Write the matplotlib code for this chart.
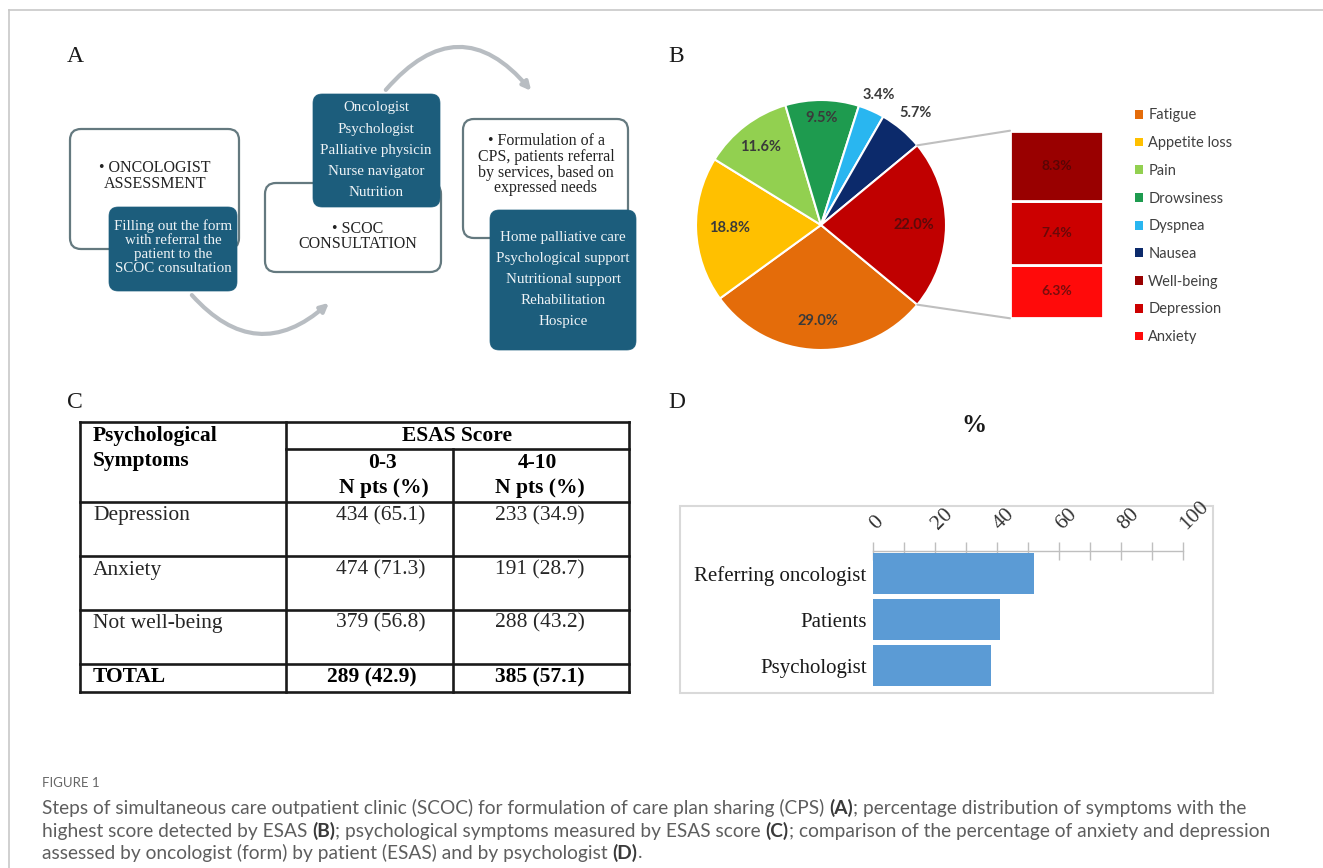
import numpy as np
import matplotlib
matplotlib.use('Agg')
import matplotlib.pyplot as plt
from matplotlib.patches import FancyBboxPatch, FancyArrowPatch, Rectangle, Patch, ConnectionPatch

W, H = 1323, 868
SERIF = 'Liberation Serif'
SANS = 'Lato'

# ---- data ----
symptoms = ['Fatigue', 'Appetite loss', 'Pain', 'Drowsiness', 'Dyspnea', 'Nausea']
symptom_pct = [29.0, 18.8, 11.6, 9.5, 3.4, 5.7]
symptom_colors = ['#E46C0A', '#FFC000', '#92D050', '#1E9B4F', '#29B6F0', '#0C2A6B']
psych_symptoms = ['Well-being', 'Depression', 'Anxiety']
psych_pct = [8.3, 7.4, 6.3]
psych_colors = ['#990000', '#CC0000', '#FF0A0A']

table_rows = ['Depression', 'Anxiety', 'Not well-being']
low_n = [434, 474, 379]
low_pct = [65.1, 71.3, 56.8]
high_n = [233, 191, 288]
high_pct = [34.9, 28.7, 43.2]
total_low = (289, 42.9)
total_high = (385, 57.1)

raters = ['Referring oncologist', 'Patients', 'Psychologist']
rater_pct = [52, 41, 38]

step1_title = ['\u2022 ONCOLOGIST', 'ASSESSMENT']
step1_detail = ['Filling out the form', 'with referral the', 'patient to the', 'SCOC consultation']
step2_title = ['\u2022 SCOC', 'CONSULTATION']
step2_detail = ['Oncologist', 'Psychologist', 'Palliative physicin', 'Nurse navigator', 'Nutrition']
step3_title = ['\u2022 Formulation of a', 'CPS, patients referral', 'by services, based on', 'expressed needs']
step3_detail = ['Home palliative care', 'Psychological support', 'Nutritional support',
                'Rehabilitation', 'Hospice']

caption_lines = [
    [('Steps of simultaneous care outpatient clinic (SCOC) for formulation of care plan sharing (CPS) ', False),
     ('(A)', True), ('; percentage distribution of symptoms with the', False)],
    [('highest score detected by ESAS ', False), ('(B)', True),
     ('; psychological symptoms measured by ESAS score ', False), ('(C)', True),
     ('; comparison of the percentage of anxiety and depression', False)],
    [('assessed by oncologist (form) by patient (ESAS) and by psychologist ', False), ('(D)', True), ('.', False)],
]

fig = plt.figure(figsize=(W / 100, H / 100), dpi=100)
fig.patch.set_facecolor('white')

# canvas in pixel units
ax0 = fig.add_axes([0, 0, 1, 1])
ax0.set_xlim(0, W)
ax0.set_ylim(H, 0)
ax0.axis('off')

# page frame
ax0.plot([9, 9], [10, H], color='#c8c8c8', lw=1.2)
ax0.plot([9, W], [10, 10], color='#c8c8c8', lw=1.2)

# panel letters
for lab, x, y in [('A', 67, 57), ('B', 668, 57), ('C', 67, 403), ('D', 668, 403)]:
    ax0.text(x, y, lab, family=SERIF, fontsize=17, color='#1a1a1a', ha='left', va='center')


# ---- panel A ----
def rbox(x0, y0, x1, y1, fc, ec, lw, r):
    p = FancyBboxPatch((x0, y0), x1 - x0, y1 - y0, boxstyle=f'round,pad=0,rounding_size={r}',
                       fc=fc, ec=ec, lw=lw)
    ax0.add_patch(p)


def lines(cx, y0, step, txt, color, size):
    for i, s in enumerate(txt):
        ax0.text(cx, y0 + i * step, s, family=SERIF, fontsize=size, color=color, ha='center', va='center')


outline = '#64797f'
dark = '#1c5d7c'
light_txt = '#eef3f6'

rbox(70, 129, 239, 249, 'white', outline, 1.6, 11)
rbox(109, 207, 237, 291, dark, dark, 0.5, 9)
lines(155, 168, 16, step1_title, '#222222', 11.5)
lines(173, 226, 14.2, step1_detail, light_txt, 10.8)

rbox(265, 183, 441, 272, 'white', outline, 1.6, 11)
rbox(313, 94, 440, 207, dark, dark, 0.5, 9)
lines(358, 229, 15.5, step2_title, '#222222', 11.5)
lines(376, 108, 21.2, step2_detail, light_txt, 10.8)

rbox(463, 119, 628, 238, 'white', outline, 1.6, 11)
rbox(490, 210, 636, 350, dark, dark, 0.5, 9)
lines(546, 141, 15.8, step3_title, '#222222', 11.5)
lines(563, 237, 21.2, step3_detail, light_txt, 10.8)

arrow_col = '#b8bdc2'
ax0.add_patch(FancyArrowPatch((190, 293), (331, 301), connectionstyle='arc3,rad=0.51',
                              arrowstyle='-|>', mutation_scale=12, color=arrow_col, lw=3))
ax0.add_patch(FancyArrowPatch((384, 92), (533, 93), connectionstyle='arc3,rad=-0.6',
                              arrowstyle='-|>', mutation_scale=12, color=arrow_col, lw=3))

# ---- panel B: bar of pie ----
cx, cy, R = 821, 225, 125
lim = 1.25
side = 2 * lim * R
ax_pie = fig.add_axes([(cx - side / 2) / W, (H - cy - side / 2) / H, side / W, side / H])
other = sum(psych_pct)
pie_vals = symptom_pct + [other]
pie_cols = symptom_colors + ['#C00000']
start = -other / 100 * 360 / 2
wedges, _ = ax_pie.pie(pie_vals, colors=pie_cols, startangle=start, counterclock=False, radius=1,
                       wedgeprops=dict(edgecolor='white', linewidth=1.5))
ax_pie.set_xlim(-lim, lim)
ax_pie.set_ylim(-lim, lim)
ax_pie.set_aspect('equal')
label_r = [0.77, 0.73, 0.79, 0.86, 1.14, 1.17, 0.74]
label_c = ['#3a3a3a'] * 6 + ['#5c0a0a']
for w, v, r, c in zip(wedges, pie_vals, label_r, label_c):
    a = np.deg2rad((w.theta1 + w.theta2) / 2)
    ax_pie.text(r * np.cos(a), r * np.sin(a), f'{v:.1f}%', ha='center', va='center',
                family=SANS, fontweight='bold', fontsize=10.5, color=c)

bx0, bx1, by0, by1 = 1010, 1103, 130.7, 318.3
ax_bar = fig.add_axes([bx0 / W, (H - by1) / H, (bx1 - bx0) / W, (by1 - by0) / H])
bottom = 0
bar_txt = ['#5a0505', '#6a0808', '#7a0c0c']
for v, c, tc in zip(psych_pct[::-1], psych_colors[::-1], bar_txt[::-1]):
    ax_bar.bar(0.5, v, width=1, bottom=bottom, color=c, edgecolor='white', linewidth=2)
    ax_bar.text(0.5, bottom + v / 2, f'{v:.1f}%', ha='center', va='center', family=SANS,
                fontweight='bold', fontsize=10, color=tc)
    bottom += v
ax_bar.set_xlim(0, 1)
ax_bar.set_ylim(0, other)
ax_bar.axis('off')

red = wedges[-1]
for th, yb in [(red.theta2, other), (red.theta1, 0)]:
    t = np.deg2rad(th)
    con = ConnectionPatch(xyA=(np.cos(t), np.sin(t)), coordsA=ax_pie.transData,
                          xyB=(0, yb), coordsB=ax_bar.transData, color='#bfbfbf', lw=1.5)
    fig.add_artist(con)

handles = [Patch(fc=c, ec='none') for c in symptom_colors + psych_colors]
fig.legend(handles, symptoms + psych_symptoms, loc='upper left',
           bbox_to_anchor=(1135 / W, 1 - 108.5 / H), frameon=False,
           prop={'family': SANS, 'size': 10.5}, labelcolor='#404040',
           handlelength=0.55, handleheight=0.55, handletextpad=0.35,
           labelspacing=0.94, borderpad=0, borderaxespad=0)

# ---- panel C: table ----
xL, xC1, xC2, xR = 79.5, 285.7, 453.3, 629.3
yT, yS, yH = 422.3, 449.3, 502.3
row_bottoms = [555.7, 610, 664]
yB = 691.7
tk = dict(color='#1a1a1a', lw=1.9, solid_capstyle='projecting')
for y in [yT, yH] + row_bottoms + [yB]:
    ax0.plot([xL, xR], [y, y], **tk)
ax0.plot([xC1, xR], [yS, yS], **tk)
ax0.plot([xL, xL], [yT, yB], **tk)
ax0.plot([xR, xR], [yT, yB], **tk)
ax0.plot([xC1, xC1], [yT, yB], **tk)
ax0.plot([xC2, xC2], [yS, yB], **tk)

tfont = dict(family=SERIF, fontsize=15.5, va='center')
ax0.text(93, 435.7, 'Psychological', fontweight='bold', ha='left', color='black', **tfont)
ax0.text(93, 460.7, 'Symptoms', fontweight='bold', ha='left', color='black', **tfont)
ax0.text((xC1 + xR) / 2, 436, 'ESAS Score', fontweight='bold', ha='center', color='black', **tfont)
ax0.text(382, 462.7, '0-3', fontweight='bold', ha='center', color='black', **tfont)
ax0.text(384, 487.7, 'N pts (%)', fontweight='bold', ha='center', color='black', **tfont)
ax0.text(537, 462.7, '4-10', fontweight='bold', ha='center', color='black', **tfont)
ax0.text(540, 487.7, 'N pts (%)', fontweight='bold', ha='center', color='black', **tfont)
row_y = [515.7, 570, 623.3]
for name, n1, p1, n2, p2, y in zip(table_rows, low_n, low_pct, high_n, high_pct, row_y):
    ax0.text(93, y, name, ha='left', color='#262626', **tfont)
    ax0.text(381, y, f'{n1} ({p1:.1f})', ha='center', color='#262626', **tfont)
    ax0.text(540, y, f'{n2} ({p2:.1f})', ha='center', color='#262626', **tfont)
ax0.text(93, 677.3, 'TOTAL', fontweight='bold', ha='left', color='black', **tfont)
ax0.text(372, 677.3, f'{total_low[0]} ({total_low[1]:.1f})', fontweight='bold', ha='center',
         color='black', **tfont)
ax0.text(540, 677.3, f'{total_high[0]} ({total_high[1]:.1f})', fontweight='bold', ha='center',
         color='black', **tfont)

# ---- panel D ----
ax0.add_patch(Rectangle((680, 506), 533, 187, fc='none', ec='#d9d9d9', lw=1.5))
ax0.text(974, 426, '%', family=SERIF, fontweight='bold', fontsize=18, ha='center', va='center',
         color='#1a1a1a')

dl, dr, dt, db = 872.7, 1182.7, 550.7, 688.7
ax_d = fig.add_axes([dl / W, (H - db) / H, (dr - dl) / W, (db - dt) / H])
ax_d.set_facecolor('none')
ax_d.barh(range(len(raters)), rater_pct, height=0.885, color='#5B9BD5')
ax_d.set_xlim(0, 100)
ax_d.set_ylim(len(raters) - 0.5, -0.5)
ax_d.set_axisbelow(True)
ax_d.xaxis.tick_top()
ax_d.set_xticks(range(0, 101, 20))
ax_d.set_xticks(range(10, 100, 20), minor=True)
ax_d.tick_params(axis='x', which='both', direction='inout', length=13, width=1, color='#bfbfbf',
                 pad=11, labelsize=15.5, labelcolor='#333333')
for lab in ax_d.get_xticklabels():
    lab.set_rotation(45)
    lab.set_ha('left')
    lab.set_va('center')
    lab.set_rotation_mode('anchor')
    lab.set_family(SERIF)
ax_d.set_yticks(range(len(raters)))
ax_d.set_yticklabels(raters, family=SERIF, fontsize=15, color='#1a1a1a')
ax_d.tick_params(axis='y', length=0, pad=4.3)
for s in ['left', 'right', 'bottom']:
    ax_d.spines[s].set_visible(False)
ax_d.spines['top'].set_color('#bfbfbf')
ax_d.spines['top'].set_linewidth(1)

# ---- caption ----
ax0.text(42, 782.7, 'FIGURE 1', family=SANS, fontsize=9.5, color='#666666', ha='left', va='center')
renderer = fig.canvas.get_renderer()

# size the caption so that its first line spans the same width as in the original
probe = ax0.text(0, 0, ''.join(s for s, _ in caption_lines[0]), family=SANS, fontsize=12)
cap_size = 12 * 1203 / probe.get_window_extent(renderer=renderer).width
probe.remove()

for line, y in zip(caption_lines, [808.3, 831, 852.7]):
    x = 42
    for s, bold in line:
        t = ax0.text(x, y, s, family=SANS, fontsize=cap_size, ha='left', va='center',
                     fontweight='bold' if bold else 'normal',
                     color='#3a3a3a' if bold else '#5e5e5e')
        x += t.get_window_extent(renderer=renderer).width

fig.savefig('out.png', dpi=100, facecolor='white')
